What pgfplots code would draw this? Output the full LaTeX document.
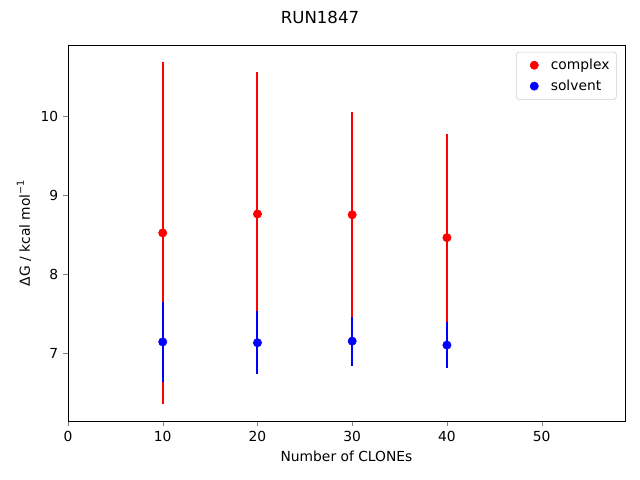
\documentclass[border=0pt]{standalone}
\usepackage{fontspec}
\setmainfont{DejaVu Sans}
\usepackage{pgfplots}
\pgfplotsset{compat=1.18}
\begin{document}
\begin{tikzpicture}
\useasboundingbox (0,0) rectangle (6.4in,4.8in);
\node[font=\fontsize{12}{14}\selectfont] at (3.2in,4.63in) {RUN1847};
\begin{axis}[
  at={(0.68in,0.59in)}, anchor=south west,
  scale only axis, width=5.57in, height=3.76in,
  xmin=0, xmax=58.8, ymin=6.139, ymax=10.899,
  xtick={0,10,20,30,40,50}, ytick={7,8,9,10},
  tick align=outside, tick pos=left,
  major tick length=3.5pt,
  /pgf/number format/assume math mode=true,
  tick label style={font=\fontsize{10}{12}\selectfont},
  label style={font=\fontsize{10}{12}\selectfont},
  xlabel={Number of CLONEs},
  ylabel={ΔG / kcal mol\raisebox{0.8ex}{\fontsize{7}{8}\selectfont −1}},
  legend style={at={(0.985,0.982)}, anchor=north east, draw=black!20, rounded corners=2pt, font=\fontsize{10}{12}\selectfont, row sep=2pt, inner xsep=3pt, inner ysep=3pt},
  legend cell align=left,
  legend image code/.code={\draw[mark repeat=2,mark phase=2,#1,draw=none] plot coordinates {(0.15cm,0cm)(0.5cm,0cm)(0.85cm,0cm)};},
]
\addplot[draw=none, mark=*, mark size=3pt, mark options={draw=red, fill=red}, error bars/.cd, y dir=both, y explicit, error bar style={draw=red, line width=1.5pt}, error mark=none]
  coordinates {
    (10,8.52) +- (0,2.17)
    (20,8.76) +- (0,1.80)
    (30,8.75) +- (0,1.30)
    (40,8.46) +- (0,1.31)
  };
\addlegendentry{complex}
\addplot[draw=none, mark=*, mark size=3pt, mark options={draw=blue, fill=blue}, error bars/.cd, y dir=both, y explicit, error bar style={draw=blue, line width=1.5pt}, error mark=none]
  coordinates {
    (10,7.14) +- (0,0.51)
    (20,7.13) +- (0,0.40)
    (30,7.15) +- (0,0.31)
    (40,7.10) +- (0,0.29)
  };
\addlegendentry{solvent}
\end{axis}
\end{tikzpicture}
\end{document}
